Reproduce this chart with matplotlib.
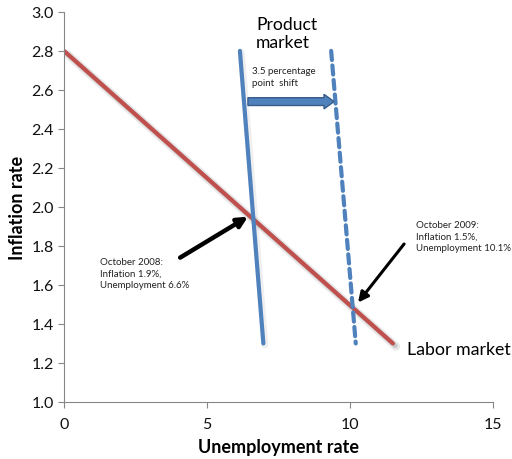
import matplotlib
matplotlib.use("Agg")
import matplotlib.pyplot as plt
from matplotlib.patches import FancyArrow
import matplotlib.transforms as mtrans

plt.rcParams['font.family'] = ['Lato', 'DejaVu Sans']

# Data
labor_x = [0.0, 11.5]
labor_y = [2.8, 1.3]
product_x = [6.15, 6.97]
product_y = [2.8, 1.3]
product_shift_x = [9.34, 10.2]
product_shift_y = [2.8, 1.3]

xticks = [0, 5, 10, 15]
yticks = [1.0, 1.2, 1.4, 1.6, 1.8, 2.0, 2.2, 2.4, 2.6, 2.8, 3.0]

oct2008 = (6.43, 1.95)
oct2008_tail = (4.06, 1.74)
oct2009 = (10.28, 1.51)
oct2009_tail = (11.89, 1.81)
shift_from = 6.43
shift_to = 9.44
shift_y = 2.54

fig = plt.figure(figsize=(5.12, 4.6), dpi=100)
ax = fig.add_axes([0.125, 0.124, 0.838, 0.848])

grey = '#868686'
red = '#C0504D'
blue = '#4F81BD'

# shadow of labor line
for off, a, lw in [(3.0, 0.18, 6), (2.2, 0.3, 3.5)]:
    tr = ax.transData + mtrans.ScaledTranslation(off/100, -off/100, fig.dpi_scale_trans)
    ax.plot(labor_x, labor_y, color='#808080', lw=lw, alpha=a, transform=tr,
            solid_capstyle='round')
ax.plot(labor_x, labor_y, color=red, lw=3, solid_capstyle='round')

for off, a, lw in [(1.5, 0.12, 5)]:
    tr = ax.transData + mtrans.ScaledTranslation(off/100, -off/100, fig.dpi_scale_trans)
    ax.plot(product_x, product_y, color='#808080', lw=lw, alpha=a, transform=tr,
            solid_capstyle='round')
ax.plot(product_x, product_y, color=blue, lw=3, solid_capstyle='round')
ax.plot(product_shift_x, product_shift_y, color=blue, lw=3, linestyle=(0, (2.2, 1.3)),
        dash_capstyle='round')

# block arrow
ax.add_patch(FancyArrow(shift_from, shift_y, shift_to - shift_from, 0,
                        width=0.04, head_width=0.075, head_length=0.35,
                        length_includes_head=True, facecolor=blue,
                        edgecolor='#385D8A', lw=1.0, zorder=5))
ax.text(6.57, 2.72, '3.5 percentage\npoint  shift', fontsize=7, color='#222222',
        ha='left', va='top', linespacing=1.3)

# black arrows
ax.annotate('', xy=oct2008, xytext=oct2008_tail,
            arrowprops=dict(arrowstyle='-|>,head_length=0.6,head_width=0.3',
                            color='black', lw=3.2, shrinkA=0, shrinkB=0))
ax.annotate('', xy=oct2009, xytext=oct2009_tail,
            arrowprops=dict(arrowstyle='-|>,head_length=0.6,head_width=0.3',
                            color='black', lw=2.2, shrinkA=0, shrinkB=0))

ax.text(1.26, 1.745, 'October 2008:\nInflation 1.9%,\nUnemployment 6.6%', fontsize=7,
        color='#222222', ha='left', va='top', linespacing=1.4)
ax.text(12.3, 1.935, 'October 2009:\nInflation 1.5%,\nUnemployment 10.1%', fontsize=7,
        color='#222222', ha='left', va='top', linespacing=1.4)

ax.text(6.71, 2.89, 'Product\nmarket', fontsize=12.6, color='black', ha='left',
        va='center', linespacing=1.15, clip_on=False)
ax.text(12.0, 1.27, 'Labor market', fontsize=12.8, color='black', ha='left', va='center')

ax.set_xlim(0, 15)
ax.set_ylim(1.0, 3.0)
ax.set_xticks(xticks)
ax.set_yticks(yticks)
ax.set_yticklabels([f'{v:.1f}' for v in yticks])
for s in ['top', 'right']:
    ax.spines[s].set_visible(False)
for s in ['left', 'bottom']:
    ax.spines[s].set_color(grey)
    ax.spines[s].set_linewidth(0.8)
ax.tick_params(axis='both', colors=grey, length=4, width=0.8, labelsize=11.5,
               labelcolor='#111111', direction='out')
ax.tick_params(axis='x', pad=7)
ax.set_xlabel('Unemployment rate', fontsize=13, fontweight='bold', labelpad=5)
ax.set_ylabel('Inflation rate', fontsize=13, fontweight='bold', labelpad=4)

fig.savefig('out.png', dpi=100)
